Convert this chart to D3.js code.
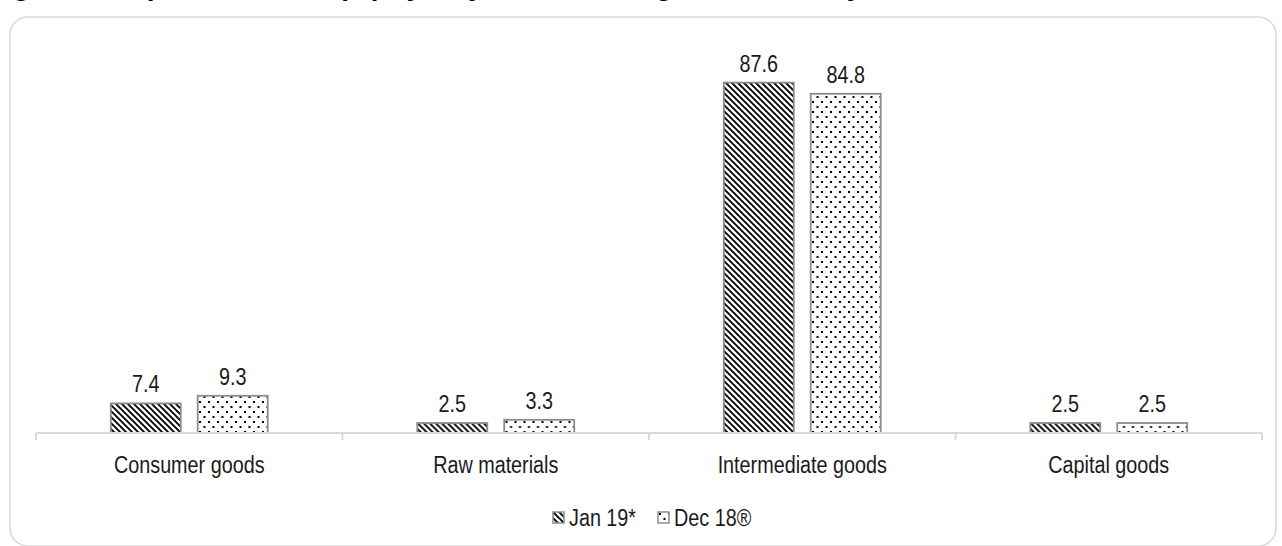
<!DOCTYPE html>
<html>
<head>
<meta charset="utf-8">
<script src="https://cdn.jsdelivr.net/npm/d3@7"></script>
<style>
  html, body { margin: 0; padding: 0; background: #fff; }
  svg { display: block; }
</style>
</head>
<body>
<div id="chart"></div>
<script>
const categories = ["Consumer goods", "Raw materials", "Intermediate goods", "Capital goods"];
const seriesNames = ["Jan 19*", "Dec 18®"];
const jan19 = [7.4, 2.5, 87.6, 2.5];
const dec18 = [9.3, 3.3, 84.8, 2.5];
const title = "Figure 4: Import structure (%) by major broad categories, January 2019 and December 2018";

const width = 1282;
const height = 546;
const labelFont = "'Liberation Sans', Arial, sans-serif";
const narrow = 0.86;   // fake a narrow face by squeezing horizontally

const svg = d3.select("#chart")
    .append("svg")
    .attr("width", width)
    .attr("height", height);

// helper: condensed text at (x, y)
function narrowText(sel, x, y, anchor) {
    sel.attr("transform", (d, i) => `translate(${x(d, i)},${y(d, i)}) scale(${narrow},1)`)
        .attr("text-anchor", anchor)
        .style("font-family", labelFont)
        .style("font-size", "23px")
        .style("fill", "#1a1a1a");
}

// Patterns
const defs = svg.append("defs");
const diag = defs.append("pattern")
    .attr("id", "diag")
    .attr("patternUnits", "userSpaceOnUse")
    .attr("width", 6)
    .attr("height", 6);
diag.append("rect").attr("width", 6).attr("height", 6).attr("fill", "#fff");
diag.append("path")
    .attr("d", "M-1,-1L7,7M-1,5L1,7M5,-1L7,1")
    .attr("stroke", "#000")
    .attr("stroke-width", 1.9);

const dots = defs.append("pattern")
    .attr("id", "dots")
    .attr("patternUnits", "userSpaceOnUse")
    .attr("width", 9)
    .attr("height", 10);
dots.append("rect").attr("width", 9).attr("height", 10).attr("fill", "#fff");
dots.append("rect").attr("x", 1).attr("y", 1).attr("width", 2).attr("height", 2).attr("fill", "#000");
dots.append("rect").attr("x", 5.5).attr("y", 6).attr("width", 2).attr("height", 2).attr("fill", "#000");

const fills = ["url(#diag)", "url(#dots)"];

// Title (cut off at the top, as in the source)
svg.append("text")
    .attr("x", -12)
    .attr("y", -5)
    .text(title)
    .style("font-family", "'Liberation Sans', Arial, sans-serif")
    .style("font-weight", "bold")
    .style("font-size", "28px")
    .style("fill", "#000");

// Chart border
svg.append("rect")
    .attr("x", 10)
    .attr("y", 17)
    .attr("width", 1266)
    .attr("height", 529)
    .attr("rx", 18)
    .attr("fill", "none")
    .attr("stroke", "#d9d9d9")
    .attr("stroke-width", 1.5);

// Scales
const x0 = d3.scaleBand()
    .domain(categories)
    .range([36, 1262])
    .paddingInner(0)
    .paddingOuter(0);

const x1 = d3.scaleBand()
    .domain(seriesNames)
    .range([0, x0.bandwidth()])
    .paddingInner(0.195)
    .paddingOuter(0.86);

const y = d3.scaleLinear()
    .domain([0, 100])
    .range([433, 33]);

const data = categories.map((c, i) => ({
    category: c,
    values: [
        { name: seriesNames[0], value: jan19[i] },
        { name: seriesNames[1], value: dec18[i] }
    ]
}));

const groups = svg.selectAll(".group")
    .data(data)
    .enter()
    .append("g")
    .attr("transform", d => `translate(${x0(d.category)},0)`);

groups.selectAll("rect")
    .data(d => d.values)
    .enter()
    .append("rect")
    .attr("x", d => x1(d.name))
    .attr("y", d => y(d.value))
    .attr("width", x1.bandwidth())
    .attr("height", d => y(0) - y(d.value))
    .attr("fill", (d, i) => fills[i])
    .attr("stroke", "#8c8c8c")
    .attr("stroke-width", 1.8);

groups.selectAll(".val")
    .data(d => d.values)
    .enter()
    .append("text")
    .text(d => d.value.toFixed(1))
    .call(narrowText,
        d => x1(d.name) + x1.bandwidth() / 2,
        d => y(d.value) - 11,
        "middle");

// Category axis
svg.append("line")
    .attr("x1", 36).attr("x2", 1262)
    .attr("y1", y(0)).attr("y2", y(0))
    .attr("stroke", "#d9d9d9")
    .attr("stroke-width", 2);

const bounds = categories.map(c => x0(c)).concat([x0.range()[1]]);
svg.selectAll(".tick-mark")
    .data(bounds)
    .enter()
    .append("line")
    .attr("x1", d => d).attr("x2", d => d)
    .attr("y1", y(0)).attr("y2", y(0) + 7)
    .attr("stroke", "#d9d9d9")
    .attr("stroke-width", 2);

svg.selectAll(".cat")
    .data(categories)
    .enter()
    .append("text")
    .text(d => d)
    .call(narrowText,
        d => x0(d) + x0.bandwidth() / 2,
        () => y(0) + 40,
        "middle");

// Legend
const legendItems = [
    { name: seriesNames[0], x: 553 },
    { name: seriesNames[1], x: 658 }
];
const legend = svg.selectAll(".legend")
    .data(legendItems)
    .enter()
    .append("g")
    .attr("transform", d => `translate(${d.x},512)`);
legend.append("rect")
    .attr("width", 11)
    .attr("height", 11)
    .attr("fill", (d, i) => fills[i])
    .attr("stroke", "#8c8c8c")
    .attr("stroke-width", 1.5);
legend.append("text")
    .text(d => d.name)
    .call(narrowText, () => 16, () => 14, "start");
</script>
</body>
</html>
